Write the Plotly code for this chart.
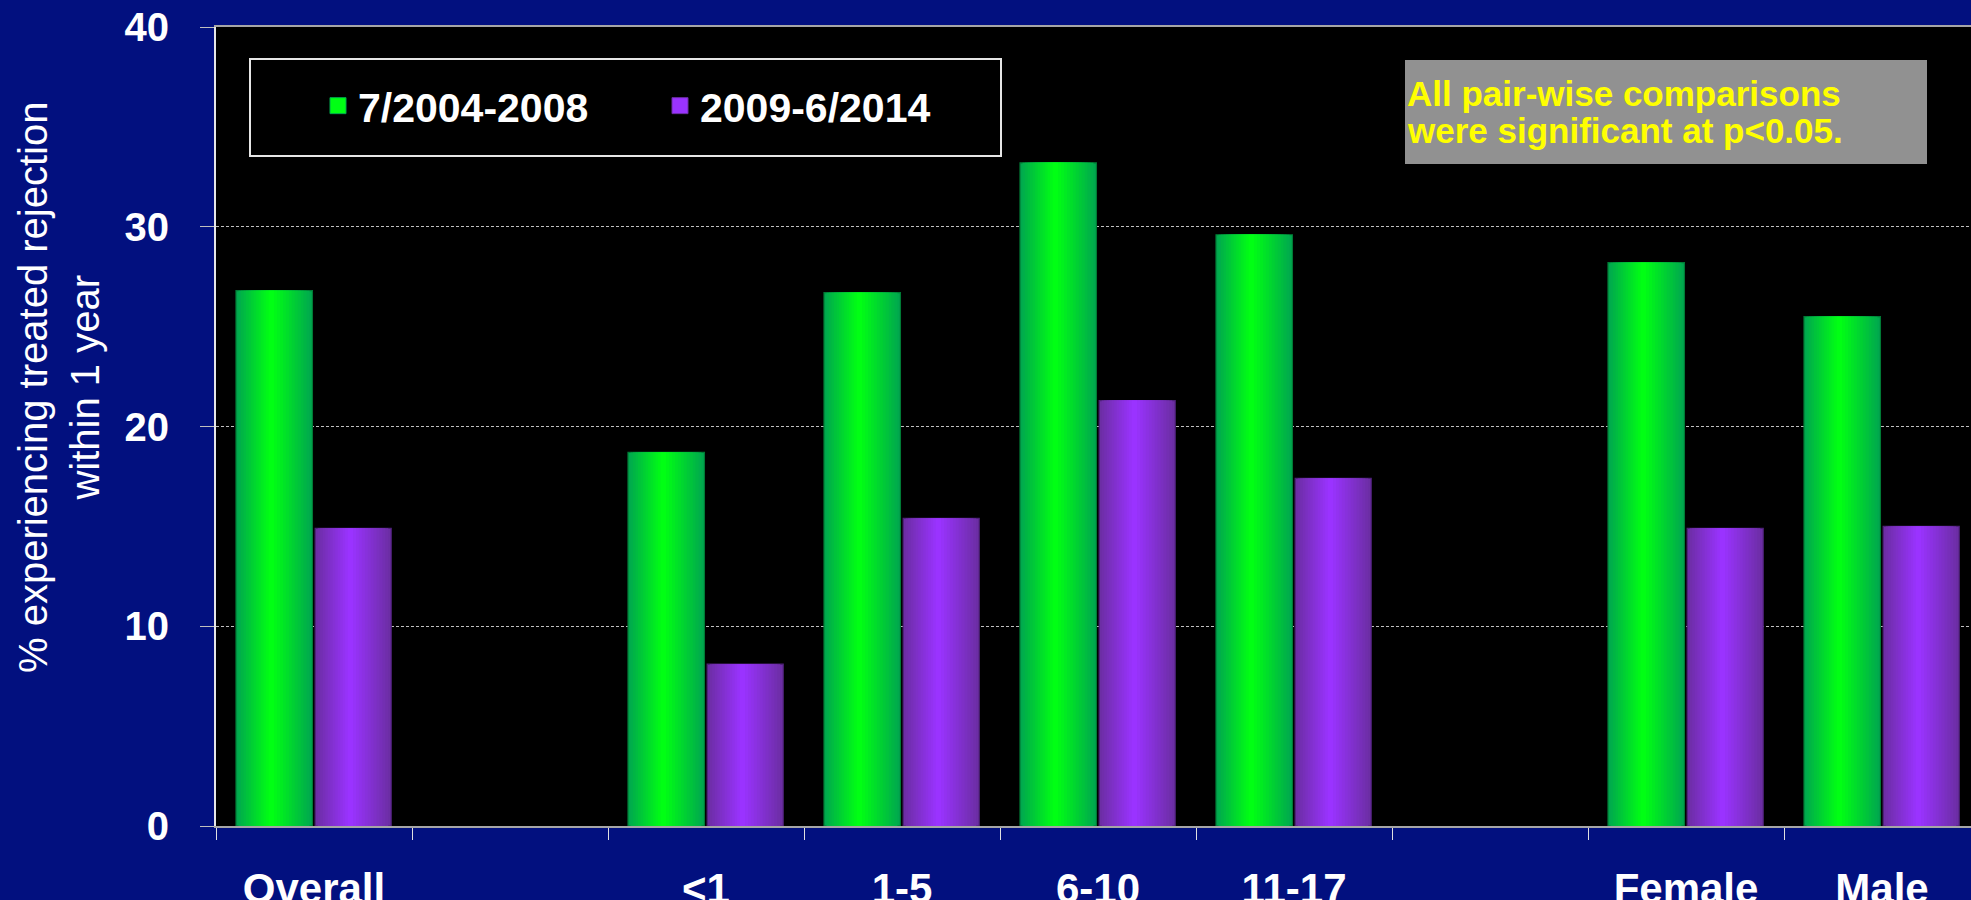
import plotly.graph_objects as go

# ---------------- data ----------------
categories = ["Overall", " ", "<1", "1-5", "6-10", "11-17", "  ", "Female", "Male"]
series_names = ["7/2004-2008", "2009-6/2014"]
values_2004_2008 = [26.8, None, 18.7, 26.7, 33.2, 29.6, None, 28.2, 25.5]
values_2009_2014 = [14.9, None, 8.1, 15.4, 21.3, 17.4, None, 14.9, 15.0]
y_ticks = [0, 10, 20, 30, 40]
y_title_lines = ["% experiencing treated rejection", "within 1 year"]
note_lines = ["All pair-wise comparisons", "were significant at p<0.05."]

# ---------------- layout constants ----------------
W, H = 1971, 900
PL, PT, PR, PB = 216, 27, 1971, 826          # plot area in pixels
PW, PH = PR - PL, PB - PT
CAT_PX = 196                                   # pixel width of one category
FONT = "Liberation Sans, Arial, sans-serif"
PAPER = "#02107F"


def px_x(px):
    return (px - PL) / PW


def px_y(py):
    return (PB - py) / PH


def lerp_hex(c1, c2, t):
    a = [int(c1[i:i + 2], 16) for i in (1, 3, 5)]
    b = [int(c2[i:i + 2], 16) for i in (1, 3, 5)]
    return "#" + "".join(f"{round(a[i] + (b[i] - a[i]) * t):02x}" for i in range(3))


styles = [
    dict(offset=-0.398, width=0.39, edge="#00A84E", center="#00FF14", line="#007A35"),
    dict(offset=0.006, width=0.388, edge="#6C2EA4", center="#9A33FF", line="#4E2178"),
]
series_values = [values_2004_2008, values_2009_2014]

fig = go.Figure()

# gradient bars built as nested overlay bars (brightest slightly left of centre)
N = 14
P = 0.46
for vals, st in zip(series_values, styles):
    for k in range(N):
        f = 1 - k / N
        left = st["offset"] + st["width"] * P * (1 - f)
        w = st["width"] * f
        col = lerp_hex(st["edge"], st["center"], k / (N - 1))
        fig.add_trace(go.Bar(
            x=categories, y=vals, offset=left, width=w,
            marker=dict(color=col,
                        line=dict(color=st["line"], width=1.2 if k == 0 else 0)),
            showlegend=False, hoverinfo="skip",
        ))

# legend entries
for name, st in zip(series_names, styles):
    fig.add_trace(go.Scatter(
        x=[None], y=[None], mode="markers", name=name,
        marker=dict(symbol="square", size=16, color=st["center"],
                    line=dict(color=st["edge"], width=1)),
        hoverinfo="skip",
    ))

shapes = [
    # legend frame
    dict(type="rect", xref="paper", yref="paper", layer="below",
         x0=px_x(250), x1=px_x(1001), y0=px_y(156), y1=px_y(59),
         fillcolor="#000000", line=dict(color="#E6E6E6", width=2)),
    # note box
    dict(type="rect", xref="paper", yref="paper", layer="below",
         x0=px_x(1405), x1=px_x(1927), y0=px_y(164), y1=px_y(60),
         fillcolor="#919191", line=dict(width=0)),
]

annotations = [
    dict(text="<br>".join(y_title_lines), textangle=-90, showarrow=False,
         xref="paper", yref="paper", x=px_x(59), y=px_y(388),
         xanchor="center", yanchor="middle",
         font=dict(family=FONT, size=40, color="#FFFFFF")),
    dict(text=note_lines[0], showarrow=False, xref="paper", yref="paper",
         x=px_x(1405), y=px_y(93), xanchor="left", yanchor="middle",
         font=dict(family=FONT, size=35, color="#FFFF00", weight="bold")),
    dict(text=note_lines[1], showarrow=False, xref="paper", yref="paper",
         x=px_x(1405), y=px_y(131), xanchor="left", yanchor="middle",
         font=dict(family=FONT, size=35, color="#FFFF00", weight="bold")),
]

fig.update_layout(
    width=W, height=H,
    margin=dict(l=PL, r=W - PR, t=PT, b=H - PB, pad=0, autoexpand=False),
    paper_bgcolor=PAPER, plot_bgcolor="#000000",
    barmode="overlay",
    showlegend=True,
    legend=dict(orientation="h", x=px_x(318), y=px_y(106),
                xanchor="left", yanchor="middle",
                bgcolor="rgba(0,0,0,0)", borderwidth=0,
                entrywidth=297, entrywidthmode="pixels",
                font=dict(family=FONT, size=41, color="#FFFFFF", weight="bold")),
    shapes=shapes,
    annotations=annotations,
    xaxis=dict(
        type="category", categoryorder="array", categoryarray=categories,
        range=[-0.5, -0.5 + PW / CAT_PX], automargin=False,
        tickson="boundaries", ticks="outside", ticklen=12, tickwidth=1,
        tickcolor="#E0E0E0",
        showline=True, linecolor="#A6A6A6", linewidth=2, mirror=True,
        showgrid=False, zeroline=False,
        ticklabelstandoff=25,
        tickfont=dict(family=FONT, size=42, color="#FFFFFF", weight="bold"),
    ),
    yaxis=dict(
        range=[0, 40], tickvals=y_ticks, ticktext=[str(v) for v in y_ticks],
        automargin=False,
        ticks="outside", ticklen=14, tickwidth=1, tickcolor="#BFBFBF",
        showline=True, linecolor="#E6E6E6", linewidth=2,
        showgrid=True, gridcolor="#BFBFBF", gridwidth=1, griddash="3px,2px",
        zeroline=False,
        ticklabelstandoff=23,
        tickfont=dict(family=FONT, size=40, color="#FFFFFF", weight="bold"),
    ),
    font=dict(family=FONT, color="#FFFFFF"),
)

fig.write_html(
    "out.html",
    config={"displayModeBar": False},
    post_script="document.body.style.margin='0px';document.body.style.overflow='hidden';",
)
